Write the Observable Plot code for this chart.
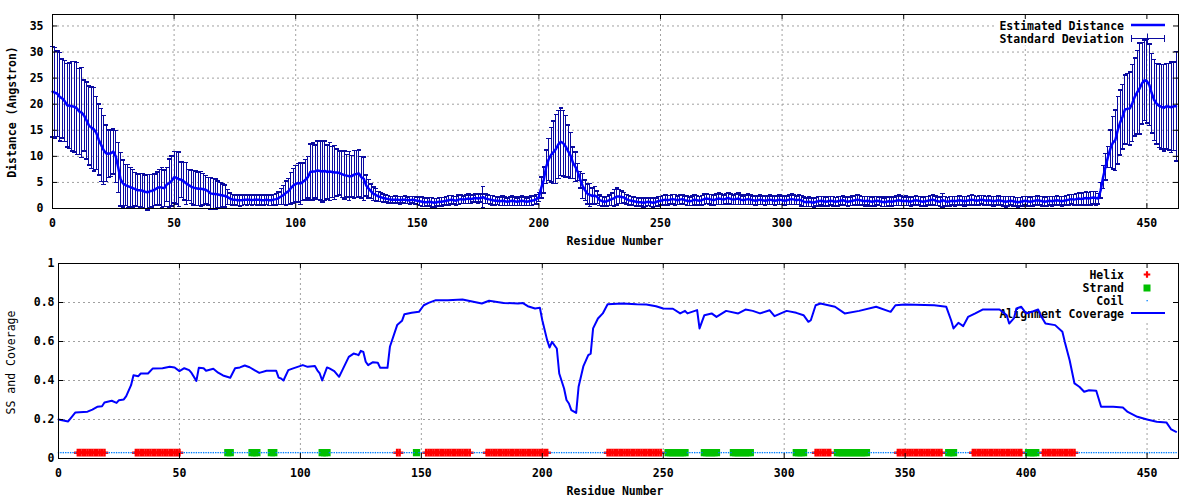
<!DOCTYPE html>
<html><head><meta charset="utf-8">
<script src="https://cdn.jsdelivr.net/npm/d3@7"></script>
<script src="https://cdn.jsdelivr.net/npm/@observablehq/plot@0.6"></script>
<style>
body{margin:0;background:#fff;}
#chart{width:1200px;height:500px;overflow:hidden;}
#chart svg{display:block;}
</style></head><body><div id="chart"></div>
<script>
// ---------------- DATA ----------------
const firstResidue = 0;
const residueTicks = [0, 50, 100, 150, 200, 250, 300, 350, 400, 450];
const distanceTicks = [0, 5, 10, 15, 20, 25, 30, 35];
const coverageTicks = [0, 0.2, 0.4, 0.6, 0.8, 1];

// estimated distance (Angstrom), one value per residue
const distance = [
22.4,22.2,22.0,21.4,21.1,20.6,19.8,19.7,19.6,19.5,
19.2,18.6,18.4,17.8,16.9,15.9,15.5,15.2,14.5,13.2,
12.2,11.2,10.6,10.5,10.6,10.9,10.0,7.9,5.6,4.8,
4.5,4.3,4.1,3.9,3.7,3.5,3.5,3.4,3.2,3.1,
3.3,3.4,3.6,3.9,4.1,4.0,3.9,4.6,4.9,5.3,
6.0,5.9,5.6,5.5,5.2,4.8,4.5,4.2,4.0,3.9,
3.8,3.8,3.7,3.6,3.3,2.9,2.8,2.8,2.7,2.6,
2.5,2.4,2.2,1.9,1.7,1.7,1.6,1.6,1.6,1.7,
1.7,1.7,1.6,1.7,1.7,1.7,1.6,1.6,1.7,1.6,
1.6,1.7,1.8,2.0,2.3,2.6,3.0,3.3,3.9,4.4,
4.7,4.9,4.8,5.1,5.5,6.0,7.0,7.1,7.1,7.3,
7.2,7.1,7.2,7.0,7.1,7.0,6.9,6.9,6.8,6.6,
6.4,6.3,6.2,6.2,6.5,6.6,6.7,6.0,5.7,4.4,
3.8,3.3,2.8,2.6,2.3,2.2,2.0,1.9,1.8,1.7,
1.7,1.7,1.7,1.6,1.7,1.7,1.6,1.6,1.7,1.6,
1.5,1.4,1.3,1.2,1.2,1.3,1.2,1.1,1.2,1.3,
1.3,1.4,1.5,1.6,1.7,1.6,1.5,1.7,1.8,1.7,
1.8,1.9,1.8,1.9,2.0,1.9,2.0,2.2,1.9,1.8,
1.7,1.6,1.5,1.5,1.4,1.5,1.4,1.3,1.4,1.5,
1.4,1.3,1.4,1.5,1.4,1.3,1.4,1.5,1.6,1.8,
2.2,4.0,5.5,8.0,9.4,10.3,10.8,11.4,12.3,12.8,
12.5,11.9,11.0,10.2,8.8,8.0,7.0,5.5,4.3,3.5,
2.8,2.6,2.4,2.5,2.2,1.6,1.4,1.3,1.4,1.6,
1.8,2.0,2.3,2.3,2.2,2.1,1.8,1.6,1.5,1.4,
1.3,1.2,1.2,1.1,1.2,1.3,1.2,1.1,1.2,1.4,
1.5,1.6,1.7,1.6,1.7,1.8,1.7,1.6,1.7,1.8,
1.6,1.5,1.4,1.5,1.7,1.6,1.5,1.6,1.8,1.9,
1.8,1.7,1.6,1.8,1.9,1.8,1.7,1.9,2.0,1.8,
1.7,1.8,1.9,1.7,1.6,1.7,1.8,1.7,1.6,1.5,
1.6,1.7,1.6,1.5,1.6,1.7,1.6,1.5,1.6,1.7,
1.6,1.5,1.6,1.7,1.8,1.7,1.6,1.7,1.5,1.3,
1.2,1.3,1.2,1.1,1.3,1.4,1.5,1.4,1.3,1.4,
1.5,1.4,1.3,1.4,1.5,1.6,1.4,1.3,1.4,1.5,
1.6,1.7,1.6,1.5,1.4,1.5,1.4,1.3,1.4,1.5,
1.4,1.3,1.2,1.3,1.4,1.3,1.4,1.5,1.6,1.5,
1.4,1.5,1.4,1.3,1.5,1.6,1.5,1.4,1.3,1.4,
1.5,1.6,1.7,1.5,1.4,1.3,1.6,1.4,1.3,1.4,
1.5,1.4,1.5,1.6,1.5,1.4,1.5,1.6,1.7,1.6,
1.5,1.6,1.7,1.6,1.5,1.6,1.5,1.4,1.5,1.6,
1.5,1.4,1.3,1.4,1.5,1.4,1.3,1.2,1.3,1.4,
1.5,1.4,1.3,1.4,1.5,1.6,1.5,1.4,1.3,1.4,
1.5,1.4,1.5,1.6,1.5,1.4,1.5,1.6,1.7,1.8,
1.7,1.8,1.9,1.8,1.9,2.0,1.9,2.0,2.1,2.0,
1.9,3.5,6.0,8.0,9.9,11.5,12.6,13.1,15.0,16.5,
17.6,19.0,19.1,19.2,20.2,21.4,22.3,23.0,24.0,24.6,
24.4,23.7,22.1,20.8,20.1,19.7,19.5,19.3,19.6,19.5,
19.4,19.6,19.6
];

// standard deviation, one value per residue
const deviation = [
8.7,8.7,8.2,8.5,7.6,7.8,8.0,8.2,8.6,8.7,
8.8,8.2,8.6,6.8,7.4,7.6,7.8,8.0,7.0,6.8,
7.0,6.6,5.4,4.6,4.5,4.3,5.0,4.8,5.1,4.5,
3.9,4.1,3.8,3.6,3.2,3.1,3.2,3.3,3.2,3.4,
3.2,3.1,3.0,3.1,3.4,3.9,3.5,3.3,4.6,4.8,
4.9,5.0,5.2,3.4,3.6,4.0,3.0,3.2,3.3,3.3,
3.2,3.3,3.0,2.7,2.6,3.0,3.0,2.9,2.6,2.4,
2.2,2.1,1.4,1.1,1.0,0.9,1.0,1.1,1.0,0.9,
1.0,0.9,1.0,0.9,1.0,0.9,1.0,0.9,0.9,1.0,
1.0,1.0,1.1,1.2,1.5,1.8,2.3,2.5,3.0,3.3,
3.5,3.7,4.0,3.6,3.9,4.0,5.4,5.5,5.1,5.6,
5.6,5.9,5.7,5.2,5.6,4.9,5.2,4.5,4.2,4.5,
4.6,4.1,4.7,4.0,4.6,4.5,4.5,4.0,4.2,2.0,
1.8,1.4,1.3,1.2,1.0,0.9,0.8,0.7,0.7,0.6,
0.6,0.7,0.6,0.7,0.6,0.7,0.6,0.7,0.6,0.7,
0.7,0.8,0.9,0.8,0.7,0.8,0.9,0.8,0.7,0.8,
0.8,0.7,0.8,0.9,0.8,0.7,0.8,0.9,0.8,0.7,
0.8,0.9,0.8,0.7,0.8,0.9,0.8,2.0,0.9,0.8,
0.8,0.9,0.8,0.7,0.8,0.9,0.8,0.7,0.8,0.9,
0.8,0.7,0.8,0.9,0.8,0.7,0.8,0.9,0.8,0.9,
0.9,2.0,2.5,3.2,4.0,5.2,6.0,6.6,6.5,6.5,
6.3,5.9,5.0,4.4,3.0,2.8,1.6,1.6,2.4,2.0,
1.9,2.2,1.5,1.7,1.2,1.0,0.9,0.9,0.9,1.0,
1.2,1.6,1.6,1.3,1.2,1.0,0.9,0.9,0.8,0.8,
0.8,0.8,0.7,0.9,0.8,0.7,0.8,0.9,0.8,0.9,
0.8,0.9,1.0,0.9,0.8,0.9,1.0,0.8,0.9,0.9,
0.8,0.9,0.8,0.9,1.0,0.9,0.8,0.9,1.0,0.9,
0.9,1.0,0.9,1.0,1.1,1.0,0.9,1.0,1.1,1.0,
0.9,1.0,1.1,0.9,0.8,0.9,1.0,0.9,0.8,0.9,
0.8,0.9,0.8,0.9,0.8,0.9,0.8,0.9,0.8,0.9,
0.8,0.9,0.8,0.9,1.0,0.9,0.8,0.9,1.0,0.9,
0.8,0.9,0.8,0.9,0.8,0.9,0.8,0.9,0.8,0.9,
0.8,0.9,0.8,0.9,0.8,0.9,0.8,0.9,0.8,0.9,
0.9,1.0,0.9,0.8,0.9,0.8,0.9,0.8,0.9,0.8,
0.8,0.9,0.8,0.9,0.8,0.9,0.8,0.9,1.0,0.9,
0.8,0.9,0.8,0.9,0.8,0.9,0.8,0.9,0.8,0.9,
0.8,0.9,1.0,0.9,0.8,0.9,1.3,0.9,0.8,0.9,
0.8,0.9,0.8,0.9,0.8,0.9,0.8,0.9,1.0,0.9,
0.8,0.9,0.8,0.9,0.8,0.9,0.8,0.9,0.8,0.9,
0.8,0.9,1.0,0.9,0.8,0.9,0.8,0.9,0.8,0.9,
0.8,0.9,0.8,0.9,0.8,0.9,0.8,0.9,0.8,0.9,
0.8,0.9,0.8,0.9,0.8,0.9,0.8,0.9,1.0,0.9,
1.0,1.1,1.2,1.1,1.2,1.3,1.2,1.3,1.2,1.3,
1.0,1.5,2.2,2.5,2.0,3.6,5.0,5.8,6.5,6.2,
6.2,6.6,6.8,7.0,7.4,7.5,8.0,8.7,7.8,7.7,
8.0,7.8,7.6,7.8,7.7,8.0,8.1,8.3,8.2,8.3,
8.7,8.5,10.5
];

// alignment coverage, read at these residues
const coverageResidue = [0,2,4,7,12,14,16,18,19,22,24,25,27,28,30,31,33,34,37,39,43,46,48,50,52,54,55,57,58,60,61,64,66,68,71,73,75,77,79,81,83,86,90,91,92,93,95,97,101,103,106,107,108,109,111,112,114,116,117,120,122,123,124,125,126,127,128,130,132,133,136,137,140,142,143,146,149,151,153,156,161,167,171,175,178,184,190,192,194,197,199,200,202,203,204,206,207,209,210,211,212,214,215,217,219,220,221,223,225,227,233,239,243,247,250,254,257,259,260,264,265,267,270,272,276,281,284,287,290,294,296,301,305,308,310,311,313,315,321,325,331,338,344,346,350,362,367,369,370,372,374,376,379,382,389,392,393,395,396,398,400,403,405,406,408,412,415,416,418,420,422,424,426,429,431,436,440,442,446,450,454,458,460,462];
const coverageValue = [0.2,0.195,0.19,0.236,0.24,0.251,0.265,0.268,0.287,0.296,0.285,0.299,0.303,0.32,0.376,0.427,0.422,0.436,0.436,0.462,0.463,0.47,0.467,0.448,0.463,0.453,0.439,0.398,0.465,0.463,0.45,0.46,0.44,0.426,0.414,0.463,0.467,0.477,0.468,0.453,0.439,0.45,0.45,0.415,0.41,0.4,0.453,0.462,0.479,0.47,0.474,0.452,0.436,0.4,0.467,0.462,0.448,0.419,0.444,0.521,0.538,0.535,0.53,0.552,0.547,0.496,0.479,0.494,0.491,0.465,0.465,0.573,0.684,0.706,0.74,0.747,0.752,0.786,0.798,0.812,0.812,0.815,0.805,0.795,0.809,0.798,0.795,0.797,0.781,0.769,0.773,0.709,0.607,0.569,0.598,0.564,0.436,0.359,0.3,0.282,0.248,0.234,0.368,0.474,0.53,0.538,0.667,0.718,0.744,0.791,0.795,0.791,0.79,0.781,0.769,0.768,0.744,0.757,0.744,0.761,0.667,0.735,0.744,0.726,0.757,0.744,0.764,0.757,0.744,0.76,0.73,0.757,0.747,0.735,0.701,0.709,0.786,0.795,0.778,0.744,0.757,0.778,0.752,0.786,0.79,0.786,0.778,0.709,0.667,0.696,0.679,0.726,0.744,0.764,0.764,0.735,0.692,0.72,0.769,0.778,0.744,0.755,0.764,0.735,0.692,0.684,0.65,0.598,0.504,0.385,0.368,0.342,0.35,0.347,0.265,0.265,0.262,0.239,0.214,0.2,0.188,0.185,0.149,0.137];

// secondary structure segments [first residue, last residue]
const helixSegments = [[8,19],[32,50],[140,141],[152,170],[177,202],[227,249],[313,319],[347,365],[378,398],[407,420]];
const strandSegments = [[70,71],[80,82],[88,89],[109,111],[148,148],[252,259],[267,272],[279,286],[305,308],[322,334],[368,370],[401,404]];
const ssLevel = 0.03;

// ---------------- BUILD ----------------
const FONT = "'DejaVu Sans Mono','Liberation Mono',monospace";
const BAR = "#0a0aa0", LINE = "#0000ff";
const HELIX = "#ff0000", STRAND = "#00c000", COIL = "#0080ff";
const GRID = {stroke: "#a0a0a0", strokeDasharray: "2,3", strokeWidth: 1};
const nRes = distance.length;
const xDomain = [0, 463];

const distRows = distance.map((d, i) => ({r: firstResidue + i, d, lo: d - deviation[i], hi: d + deviation[i]}));
const covRows = coverageResidue.map((r, i) => ({r, v: coverageValue[i]}));
const expand = segs => segs.flatMap(([a, b]) => d3.range(a, b + 1));
const helixRes = expand(helixSegments), strandRes = expand(strandSegments);
const ssSet = new Set([...helixRes, ...strandRes]);
const helixRows = helixRes.map(r => ({r, y: ssLevel}));
const strandRows = strandRes.map(r => ({r, y: ssLevel}));
const coilRows = d3.range(firstResidue, firstResidue + nRes).filter(r => !ssSet.has(r)).map(r => ({r, y: ssLevel}));

const capSymbol = {draw(ctx, size) { const w = Math.sqrt(size / Math.PI); ctx.moveTo(-w, 0); ctx.lineTo(w, 0); }};
const style = {fontFamily: FONT, fontSize: "11.5px", fontWeight: "bold", background: "white", color: "black"};

function frameTicks(xt, yt, plotW, plotH) {
  const L = 5;
  return [
    Plot.tickX(xt, {x: d => d, insetTop: plotH - L, stroke: "black"}),
    Plot.tickX(xt, {x: d => d, insetBottom: plotH - L, stroke: "black"}),
    Plot.tickY(yt, {y: d => d, insetRight: plotW - L, stroke: "black"}),
    Plot.tickY(yt, {y: d => d, insetLeft: plotW - L, stroke: "black"})
  ];
}

function legendText(g, x, y, txt) {
  g.append("text").attr("x", x).attr("y", y).attr("dy", "0.35em").attr("text-anchor", "end").text(txt);
}

const legendTop = () => {
  const g = d3.create("svg:g");
  g.append("rect").attr("x", 995).attr("y", 14.5).attr("width", 182.5).attr("height", 31).attr("fill", "white");
  legendText(g, 1124, 26, "Estimated Distance");
  legendText(g, 1124, 39, "Standard Deviation");
  g.append("line").attr("x1", 1131).attr("x2", 1165).attr("y1", 25).attr("y2", 25).attr("stroke", LINE).attr("stroke-width", 2.5);
  g.append("line").attr("x1", 1131).attr("x2", 1165).attr("y1", 38.5).attr("y2", 38.5).attr("stroke", BAR);
  for (const [x, h] of [[1131.5, 3.5], [1164.5, 3.5], [1147.5, 5]])
    g.append("line").attr("x1", x).attr("x2", x).attr("y1", 38.5 - h).attr("y2", 38.5 + h).attr("stroke", BAR);
  return g.node();
};

const legendBottom = () => {
  const g = d3.create("svg:g");
  g.append("rect").attr("x", 997).attr("y", 13.5).attr("width", 180.5).attr("height", 57).attr("fill", "white");
  legendText(g, 1124, 25, "Helix");
  legendText(g, 1124, 38, "Strand");
  legendText(g, 1124, 51, "Coil");
  legendText(g, 1124, 64, "Alignment Coverage");
  g.append("path").attr("d", d3.symbol(d3.symbolCross, 24)()).attr("transform", "translate(1147,24.5)").attr("fill", HELIX);
  g.append("rect").attr("x", 1143.5).attr("y", 34.5).attr("width", 7).attr("height", 7).attr("fill", STRAND);
  g.append("rect").attr("x", 1146.5).attr("y", 50).attr("width", 1.3).attr("height", 1.3).attr("fill", COIL);
  g.append("line").attr("x1", 1131).attr("x2", 1165).attr("y1", 63).attr("y2", 63).attr("stroke", LINE).attr("stroke-width", 2);
  return g.node();
};

// ---- top panel
const topPlot = Plot.plot({
  width: 1200, height: 250, marginLeft: 52, marginRight: 22, marginTop: 14, marginBottom: 42,
  style,
  x: {domain: xDomain}, y: {domain: [0, 37.2]},
  marks: [
    Plot.ruleX(residueTicks.filter(t => t > 0), {x: d => d, ...GRID}),
    Plot.ruleY(distanceTicks.filter(t => t > 0), {y: d => d, ...GRID}),
    legendTop,
    Plot.ruleX(distRows, {x: "r", y1: "lo", y2: "hi", stroke: BAR, strokeWidth: 1, shapeRendering: "crispEdges"}),
    Plot.dot(distRows, {x: "r", y: "hi", symbol: capSymbol, r: 2.2, stroke: BAR, fill: "none", shapeRendering: "crispEdges"}),
    Plot.dot(distRows, {x: "r", y: "lo", symbol: capSymbol, r: 2.2, stroke: BAR, fill: "none", shapeRendering: "crispEdges"}),
    Plot.line(distRows, {x: "r", y: "d", stroke: LINE, strokeWidth: 2.5}),
    Plot.frame({stroke: "black"}),
    ...frameTicks(residueTicks, distanceTicks, 1126, 194),
    Plot.axisX({ticks: residueTicks, tickSize: 0, tickPadding: 10, label: null, tickFormat: d => String(d)}),
    Plot.axisY({ticks: distanceTicks, tickSize: 0, tickPadding: 9, label: null, tickFormat: d => String(d)})
  ]
});

// ---- bottom panel
const bottomPlot = Plot.plot({
  width: 1200, height: 250, marginLeft: 58, marginRight: 22, marginTop: 13, marginBottom: 42,
  style,
  x: {domain: xDomain}, y: {domain: [0, 1]},
  marks: [
    Plot.ruleX(residueTicks.filter(t => t > 0), {x: d => d, ...GRID}),
    Plot.ruleY(coverageTicks.filter(t => t > 0 && t < 1), {y: d => d, ...GRID}),
    legendBottom,
    Plot.dot(helixRows, {x: "r", y: "y", symbol: "cross", r: 3.2, fill: HELIX, stroke: "none"}),
    Plot.dot(strandRows, {x: "r", y: "y", symbol: "square", r: 4.1, fill: STRAND, stroke: "none"}),
    Plot.dot(coilRows, {x: "r", y: "y", symbol: "square", r: 0.8, fill: COIL, stroke: "none"}),
    Plot.line(covRows, {x: "r", y: "v", stroke: LINE, strokeWidth: 2}),
    Plot.frame({stroke: "black"}),
    ...frameTicks(residueTicks, coverageTicks, 1120, 195),
    Plot.axisX({ticks: residueTicks, tickSize: 0, tickPadding: 10, label: null, tickFormat: d => String(d)}),
    Plot.axisY({ticks: coverageTicks, tickSize: 0, tickPadding: 4, label: null, tickFormat: d => String(d)})
  ]
});

function addLabel(svg, x, y, txt, rotate, weight) {
  d3.select(svg).append("text")
    .attr("transform", `translate(${x},${y})` + (rotate ? " rotate(-90)" : ""))
    .attr("text-anchor", "middle").attr("dy", "0.35em")
    .attr("font-family", FONT).attr("font-size", "11.5px").attr("font-weight", weight)
    .attr("fill", "black").text(txt);
}
addLabel(topPlot, 615, 241, "Residue Number", false, "bold");
addLabel(topPlot, 11.5, 112, "Distance (Angstron)", true, "bold");
addLabel(bottomPlot, 615, 241, "Residue Number", false, "bold");
addLabel(bottomPlot, 11, 112.5, "SS and Coverage", true, "normal");

document.getElementById("chart").append(topPlot, bottomPlot);
</script>
</body></html>
